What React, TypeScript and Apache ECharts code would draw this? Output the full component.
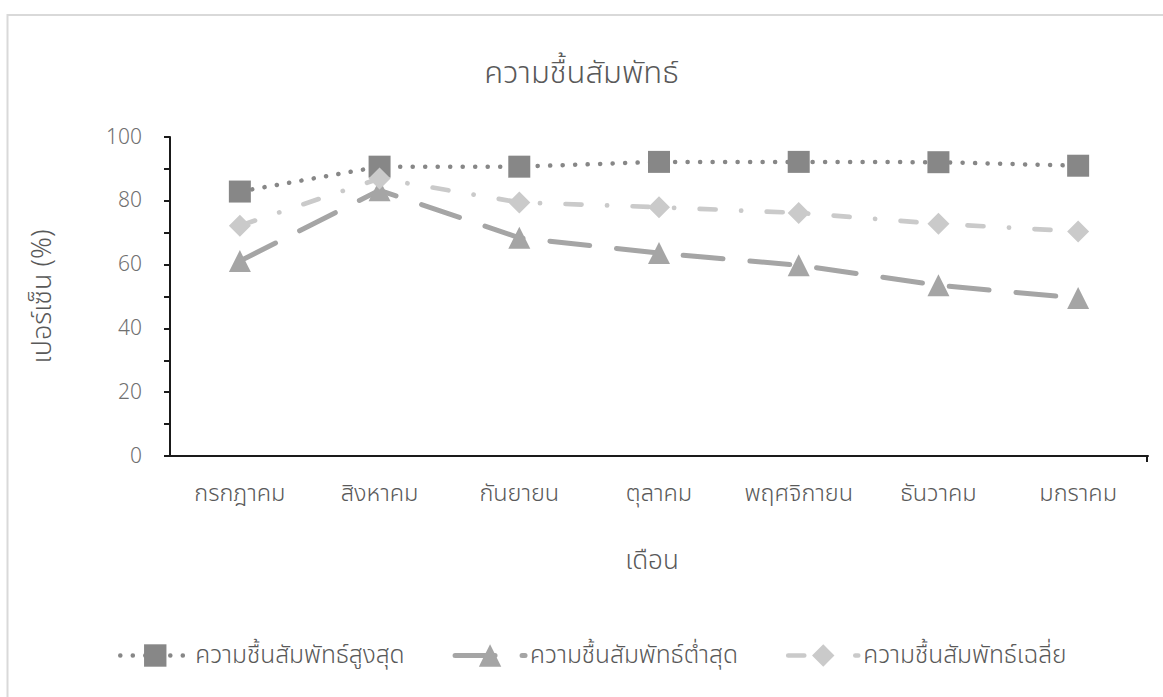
import React, { useEffect, useRef } from "react";
import * as echarts from "echarts";

const categories = ["กรกฎาคม", "สิงหาคม", "กันยายน", "ตุลาคม", "พฤศจิกายน", "ธันวาคม", "มกราคม"];
const maxValues = [82.9, 90.7, 90.7, 92.2, 92.2, 92.1, 91.0];
const minValues = [61.1, 83.3, 68.4, 63.6, 59.8, 53.5, 49.5];
const avgValues = [72.2, 87.0, 79.5, 78.0, 76.2, 72.8, 70.4];
const seriesNames = ["ความชื้นสัมพัทธ์สูงสุด", "ความชื้นสัมพัทธ์ต่ำสุด", "ความชื้นสัมพัทธ์เฉลี่ย"];
const titleText = "ความชื้นสัมพัทธ์";
const xName = "เดือน";
const yName = "เปอร์เซ็น (%)";

const FONT = "'Noto Sans Thai', 'Open Sans', sans-serif";
const TEXT = "#595959";
const W = 300;

export default function App() {
  const ref = useRef<HTMLDivElement>(null);
  useEffect(() => {
    if (!ref.current) return;
    const chart = echarts.init(ref.current, null, { renderer: "svg" });
    chart.setOption({
      animation: false,
      backgroundColor: "#ffffff",
      title: {
        text: titleText,
        left: "center",
        top: 53,
        textStyle: { fontFamily: FONT, fontSize: 31, fontWeight: W, color: TEXT },
      },
      graphic: [
        {
          type: "rect",
          z: -10,
          silent: true,
          shape: { x: 7.5, y: 15, width: 1300, height: 800 },
          style: { fill: "none", stroke: "#d9d9d9", lineWidth: 2 },
        },
        {
          type: "line",
          silent: true,
          shape: { x1: 1147, y1: 456, x2: 1147, y2: 462 },
          style: { stroke: "#1a1a1a", lineWidth: 2 },
        },
      ],
      grid: { left: 170, right: 15, top: 137, bottom: 241, containLabel: false },
      legend: {
        bottom: 24,
        left: 113,
        itemWidth: 70,
        itemHeight: 28,
        itemGap: 48,
        textStyle: { fontFamily: FONT, fontSize: 24.5, fontWeight: W, color: TEXT },
        data: [
          { name: seriesNames[0], lineStyle: { width: 4.5 } },
          { name: seriesNames[1], lineStyle: { width: 5 } },
          { name: seriesNames[2], lineStyle: { width: 4.7 } },
        ],
      },
      xAxis: {
        type: "category",
        data: categories,
        boundaryGap: true,
        name: xName,
        nameLocation: "middle",
        nameGap: 92,
        nameTextStyle: { fontFamily: FONT, fontSize: 26, fontWeight: W, color: TEXT, padding: [0, 14, 0, 0] },
        axisLine: { lineStyle: { color: "#1a1a1a", width: 2 } },
        axisTick: { alignWithLabel: true, interval: 0, length: 6, lineStyle: { color: "#1a1a1a", width: 2 } },
        axisLabel: { interval: 0, hideOverlap: false, fontFamily: FONT, fontSize: 23.5, fontWeight: W, color: TEXT, margin: 26 },
        splitLine: { show: false },
      },
      yAxis: {
        type: "value",
        min: 0,
        max: 100,
        interval: 10,
        name: yName,
        nameLocation: "middle",
        nameGap: 114,
        nameTextStyle: { fontFamily: FONT, fontSize: 27, fontWeight: W, color: TEXT },
        axisLine: { show: true, lineStyle: { color: "#1a1a1a", width: 2 } },
        axisTick: { show: true, length: 6, lineStyle: { color: "#1a1a1a", width: 2 } },
        axisLabel: {
          fontFamily: FONT,
          fontSize: 21,
          fontWeight: W,
          color: "#707070",
          margin: 28,
          formatter: (v: number) => (v % 20 === 0 ? String(v) : ""),
        },
        splitLine: { show: false },
      },
      series: [
        {
          name: seriesNames[0],
          type: "line",
          data: maxValues,
          symbol: "rect",
          symbolSize: 22,
          itemStyle: { color: "#878787" },
          lineStyle: { color: "#878787", width: 4.5, type: [0.1, 12.4], cap: "round" },
        },
        {
          name: seriesNames[1],
          type: "line",
          data: minValues,
          symbol: "triangle",
          symbolSize: 22,
          itemStyle: { color: "#a5a5a5" },
          lineStyle: { color: "#a5a5a5", width: 5, type: [40, 27], cap: "round" },
        },
        {
          name: seriesNames[2],
          type: "line",
          data: avgValues,
          symbol: "diamond",
          symbolSize: 22,
          itemStyle: { color: "#cacaca" },
          lineStyle: { color: "#cacaca", width: 4.7, type: [16, 25.5, 0.1, 25.5], cap: "round" },
        },
      ],
    });
    return () => chart.dispose();
  }, []);
  return (
    <div
      ref={ref}
      style={{ position: "absolute", left: 0, top: 0, width: 1163, height: 697 }}
    />
  );
}
